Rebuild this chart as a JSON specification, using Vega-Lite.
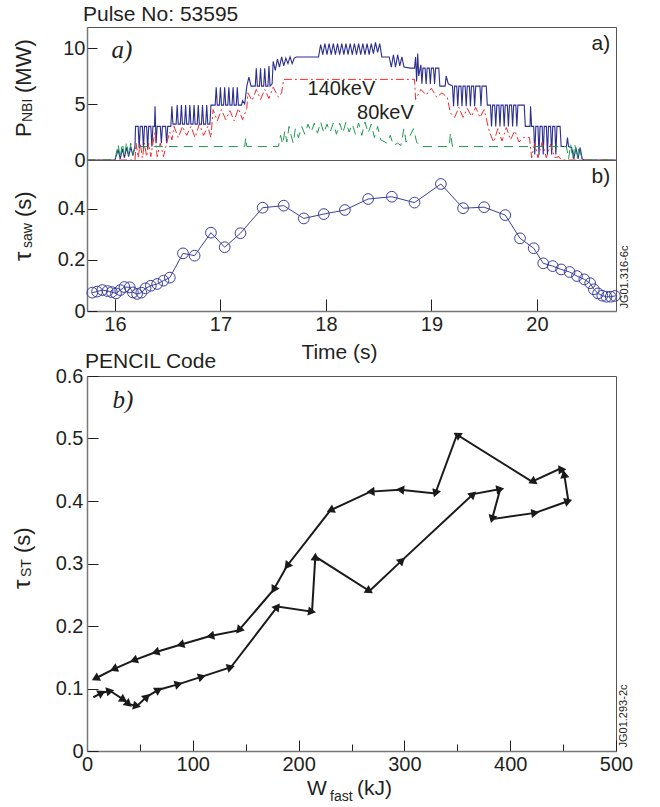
{
"$schema": "https://vega.github.io/schema/vega-lite/v6.json",
"padding": {"left": 10, "top": 3, "right": 4, "bottom": 2},
"config": {
 "font": "Liberation Sans",
 "view": {"stroke": "#555", "strokeWidth": 1},
 "axis": {"labelFont": "Liberation Sans", "labelFontSize": 20, "labelColor": "#231f20", "tickColor": "#231f20", "tickWidth": 1, "domainColor": "#777", "domainWidth": 1.5, "grid": false, "titleFont": "Liberation Sans", "titleFontSize": 20, "titleFontWeight": "normal", "titleColor": "#231f20", "labelFlush": false, "labelOverlap": false},
 "text": {"font": "Liberation Sans", "color": "#231f20"}
},
"datasets": {
 "nbi_total": [
  {"t":15.735,"P":0},{"t":16.0,"P":0},{"t":16.03,"P":0.9},{"t":16.05,"P":0.1},{"t":16.07,"P":1.0},{"t":16.09,"P":0.2},{"t":16.11,"P":1.1},{"t":16.13,"P":0.3},{"t":16.15,"P":1.2},{"t":16.17,"P":0.4},{"t":16.19,"P":1.2},{"t":16.195,"P":3.0},{"t":16.22,"P":3.0},{"t":16.23,"P":1.0},{"t":16.24,"P":3.0},{"t":16.26,"P":3.0},{"t":16.27,"P":1.0},{"t":16.28,"P":3.0},{"t":16.30,"P":3.0},{"t":16.31,"P":1.0},{"t":16.32,"P":3.0},{"t":16.34,"P":3.0},{"t":16.35,"P":1.2},{"t":16.36,"P":3.0},{"t":16.375,"P":3.0},{"t":16.38,"P":4.8},{"t":16.39,"P":1.5},{"t":16.40,"P":3.0},{"t":16.43,"P":3.0},{"t":16.44,"P":1.5},{"t":16.45,"P":3.0},{"t":16.48,"P":3.0},{"t":16.49,"P":1.5},{"t":16.50,"P":3.0},{"t":16.53,"P":3.0},{"t":16.54,"P":4.8},{"t":16.55,"P":3.2},{"t":16.58,"P":3.2},{"t":16.59,"P":4.9},{"t":16.60,"P":3.2},{"t":16.62,"P":3.2},{"t":16.63,"P":4.9},{"t":16.64,"P":3.2},{"t":16.66,"P":3.2},{"t":16.67,"P":4.9},{"t":16.68,"P":3.2},{"t":16.70,"P":3.2},{"t":16.71,"P":4.9},{"t":16.72,"P":3.2},{"t":16.74,"P":3.2},{"t":16.75,"P":4.9},{"t":16.76,"P":3.2},{"t":16.78,"P":3.2},{"t":16.79,"P":4.9},{"t":16.80,"P":3.2},{"t":16.82,"P":3.2},{"t":16.83,"P":4.9},{"t":16.84,"P":3.2},{"t":16.86,"P":3.2},{"t":16.87,"P":4.9},{"t":16.88,"P":3.2},{"t":16.90,"P":3.2},{"t":16.91,"P":4.9},{"t":16.93,"P":4.9},{"t":16.95,"P":4.9},{"t":16.96,"P":6.5},{"t":16.97,"P":4.9},{"t":16.99,"P":4.9},{"t":17.00,"P":6.5},{"t":17.01,"P":4.9},{"t":17.03,"P":4.9},{"t":17.04,"P":6.5},{"t":17.05,"P":4.9},{"t":17.07,"P":4.9},{"t":17.08,"P":6.5},{"t":17.09,"P":4.9},{"t":17.11,"P":4.9},{"t":17.12,"P":6.5},{"t":17.13,"P":4.9},{"t":17.15,"P":4.9},{"t":17.16,"P":6.5},{"t":17.17,"P":4.9},{"t":17.20,"P":4.9},{"t":17.21,"P":5.3},{"t":17.23,"P":5.0},{"t":17.25,"P":6.6},{"t":17.27,"P":7.4},{"t":17.29,"P":6.6},{"t":17.33,"P":6.6},{"t":17.34,"P":8.2},{"t":17.35,"P":6.6},{"t":17.37,"P":6.6},{"t":17.38,"P":8.2},{"t":17.39,"P":6.6},{"t":17.41,"P":6.6},{"t":17.42,"P":8.2},{"t":17.43,"P":6.6},{"t":17.45,"P":6.6},{"t":17.46,"P":8.4},{"t":17.47,"P":6.6},{"t":17.49,"P":6.8},{"t":17.50,"P":8.8},{"t":17.52,"P":8.0},{"t":17.54,"P":9.0},{"t":17.56,"P":8.3},{"t":17.58,"P":9.2},{"t":17.60,"P":8.4},{"t":17.62,"P":9.1},{"t":17.64,"P":8.6},{"t":17.66,"P":9.2},{"t":17.68,"P":8.6},{"t":17.70,"P":9.1},{"t":17.72,"P":9.2},{"t":17.93,"P":9.2},{"t":17.95,"P":10.3},{"t":17.97,"P":9.4},{"t":17.99,"P":10.4},{"t":18.01,"P":9.4},{"t":18.03,"P":10.4},{"t":18.05,"P":9.4},{"t":18.07,"P":10.4},{"t":18.09,"P":9.4},{"t":18.11,"P":10.4},{"t":18.13,"P":9.4},{"t":18.15,"P":10.4},{"t":18.17,"P":9.4},{"t":18.19,"P":10.4},{"t":18.21,"P":9.4},{"t":18.23,"P":10.4},{"t":18.25,"P":9.4},{"t":18.27,"P":10.4},{"t":18.29,"P":9.4},{"t":18.31,"P":10.4},{"t":18.33,"P":9.4},{"t":18.35,"P":10.4},{"t":18.37,"P":9.4},{"t":18.39,"P":10.4},{"t":18.41,"P":9.4},{"t":18.43,"P":10.4},{"t":18.45,"P":9.5},{"t":18.47,"P":10.5},{"t":18.49,"P":9.6},{"t":18.51,"P":10.4},{"t":18.53,"P":9.2},{"t":18.60,"P":9.2},{"t":18.62,"P":8.3},{"t":18.64,"P":9.4},{"t":18.66,"P":8.3},{"t":18.68,"P":9.4},{"t":18.70,"P":8.4},{"t":18.72,"P":9.2},{"t":18.74,"P":8.3},{"t":18.80,"P":8.2},{"t":18.84,"P":8.2},{"t":18.85,"P":9.2},{"t":18.86,"P":7.0},{"t":18.87,"P":9.5},{"t":18.88,"P":7.5},{"t":18.90,"P":8.5},{"t":18.91,"P":6.8},{"t":18.92,"P":8.2},{"t":18.94,"P":8.2},{"t":18.95,"P":6.8},{"t":18.96,"P":8.2},{"t":18.98,"P":8.2},{"t":18.99,"P":6.8},{"t":19.00,"P":8.2},{"t":19.02,"P":8.2},{"t":19.03,"P":6.8},{"t":19.04,"P":8.2},{"t":19.07,"P":8.2},{"t":19.08,"P":6.6},{"t":19.13,"P":6.6},{"t":19.14,"P":7.5},{"t":19.16,"P":6.8},{"t":19.20,"P":6.6},{"t":19.21,"P":4.8},{"t":19.22,"P":6.6},{"t":19.24,"P":6.6},{"t":19.25,"P":4.8},{"t":19.26,"P":6.6},{"t":19.28,"P":6.6},{"t":19.29,"P":4.8},{"t":19.30,"P":6.6},{"t":19.32,"P":6.6},{"t":19.33,"P":4.8},{"t":19.34,"P":6.6},{"t":19.36,"P":6.6},{"t":19.37,"P":4.8},{"t":19.38,"P":6.6},{"t":19.40,"P":6.6},{"t":19.41,"P":4.8},{"t":19.42,"P":6.6},{"t":19.46,"P":6.6},{"t":19.47,"P":4.8},{"t":19.48,"P":6.6},{"t":19.52,"P":6.6},{"t":19.53,"P":4.9},{"t":19.56,"P":4.9},{"t":19.57,"P":3.0},{"t":19.58,"P":4.9},{"t":19.60,"P":4.9},{"t":19.61,"P":3.0},{"t":19.62,"P":4.9},{"t":19.64,"P":4.9},{"t":19.65,"P":3.0},{"t":19.66,"P":4.9},{"t":19.68,"P":4.9},{"t":19.69,"P":3.0},{"t":19.70,"P":4.9},{"t":19.72,"P":4.9},{"t":19.73,"P":3.0},{"t":19.74,"P":4.9},{"t":19.76,"P":4.9},{"t":19.77,"P":3.0},{"t":19.78,"P":4.9},{"t":19.80,"P":4.9},{"t":19.81,"P":3.0},{"t":19.82,"P":4.9},{"t":19.88,"P":4.9},{"t":19.89,"P":3.0},{"t":19.935,"P":3.0},{"t":19.94,"P":4.8},{"t":19.95,"P":3.0},{"t":19.97,"P":3.0},{"t":19.98,"P":0.5},{"t":19.99,"P":3.0},{"t":20.01,"P":3.0},{"t":20.02,"P":0.5},{"t":20.03,"P":3.0},{"t":20.05,"P":3.0},{"t":20.06,"P":0.5},{"t":20.07,"P":3.0},{"t":20.09,"P":3.0},{"t":20.10,"P":0.5},{"t":20.11,"P":3.0},{"t":20.13,"P":3.0},{"t":20.14,"P":0.5},{"t":20.15,"P":3.0},{"t":20.17,"P":3.0},{"t":20.18,"P":0.5},{"t":20.19,"P":3.0},{"t":20.22,"P":3.0},{"t":20.23,"P":1.2},{"t":20.28,"P":1.2},{"t":20.29,"P":2.0},{"t":20.30,"P":1.2},{"t":20.33,"P":1.1},{"t":20.35,"P":0.1},{"t":20.37,"P":1.1},{"t":20.39,"P":0.1},{"t":20.41,"P":1.1},{"t":20.43,"P":0.1},{"t":20.45,"P":0},{"t":20.75,"P":0}
 ],
 "nbi_140": [
  {"t":15.735,"P":0},{"t":16.19,"P":0},{"t":16.20,"P":1.5},{"t":16.22,"P":0.2},{"t":16.24,"P":1.5},{"t":16.26,"P":0.2},{"t":16.28,"P":1.5},{"t":16.30,"P":0.3},{"t":16.32,"P":1.5},{"t":16.34,"P":0.3},{"t":16.36,"P":1.5},{"t":16.38,"P":2.5},{"t":16.40,"P":0.3},{"t":16.43,"P":1.5},{"t":16.46,"P":0.3},{"t":16.49,"P":1.5},{"t":16.52,"P":2.5},{"t":16.54,"P":1.8},{"t":16.56,"P":3.0},{"t":16.60,"P":2.0},{"t":16.64,"P":3.0},{"t":16.68,"P":2.2},{"t":16.72,"P":3.0},{"t":16.76,"P":2.0},{"t":16.80,"P":3.2},{"t":16.84,"P":2.2},{"t":16.88,"P":3.0},{"t":16.91,"P":2.0},{"t":16.93,"P":4.5},{"t":16.97,"P":3.5},{"t":17.01,"P":4.5},{"t":17.05,"P":3.6},{"t":17.09,"P":4.4},{"t":17.13,"P":3.5},{"t":17.17,"P":4.6},{"t":17.21,"P":3.6},{"t":17.25,"P":4.6},{"t":17.26,"P":6.0},{"t":17.30,"P":5.3},{"t":17.34,"P":6.3},{"t":17.38,"P":5.4},{"t":17.42,"P":6.3},{"t":17.46,"P":5.5},{"t":17.50,"P":6.5},{"t":17.55,"P":5.6},{"t":17.58,"P":6.0},{"t":17.60,"P":7.2},{"t":18.84,"P":7.2},{"t":18.85,"P":5.4},{"t":18.90,"P":6.3},{"t":18.95,"P":5.8},{"t":19.00,"P":6.4},{"t":19.05,"P":5.6},{"t":19.10,"P":6.0},{"t":19.15,"P":5.6},{"t":19.18,"P":4.2},{"t":19.22,"P":3.8},{"t":19.26,"P":4.7},{"t":19.30,"P":3.8},{"t":19.34,"P":4.6},{"t":19.38,"P":3.9},{"t":19.42,"P":4.7},{"t":19.46,"P":3.8},{"t":19.50,"P":4.5},{"t":19.55,"P":2.5},{"t":19.59,"P":1.6},{"t":19.63,"P":2.8},{"t":19.67,"P":1.7},{"t":19.71,"P":2.9},{"t":19.75,"P":1.8},{"t":19.79,"P":2.6},{"t":19.83,"P":1.6},{"t":19.87,"P":2.0},{"t":19.93,"P":2.0},{"t":19.95,"P":0.2},{"t":19.98,"P":1.5},{"t":20.01,"P":0.2},{"t":20.05,"P":1.6},{"t":20.09,"P":0.2},{"t":20.13,"P":1.4},{"t":20.17,"P":0.2},{"t":20.21,"P":0.3},{"t":20.23,"P":0},{"t":20.75,"P":0}
 ],
 "nbi_80": [
  {"t":15.735,"P":0},{"t":16.0,"P":0},{"t":16.03,"P":1.4},{"t":16.05,"P":0.2},{"t":16.07,"P":1.5},{"t":16.09,"P":0.3},{"t":16.11,"P":1.6},{"t":16.13,"P":0.4},{"t":16.15,"P":1.5},{"t":16.17,"P":0.5},{"t":16.19,"P":1.2},{"t":17.23,"P":1.2},{"t":17.24,"P":2.0},{"t":17.25,"P":1.2},{"t":17.55,"P":1.2},{"t":17.57,"P":2.2},{"t":17.59,"P":1.4},{"t":17.61,"P":2.6},{"t":17.63,"P":1.6},{"t":17.65,"P":3.0},{"t":17.67,"P":2.2},{"t":17.69,"P":1.5},{"t":17.71,"P":2.8},{"t":17.74,"P":2.0},{"t":17.77,"P":3.0},{"t":17.80,"P":2.3},{"t":17.83,"P":3.2},{"t":17.86,"P":2.5},{"t":17.89,"P":3.3},{"t":17.92,"P":2.4},{"t":17.95,"P":3.4},{"t":17.98,"P":2.4},{"t":18.01,"P":3.2},{"t":18.04,"P":2.5},{"t":18.07,"P":3.3},{"t":18.10,"P":2.3},{"t":18.13,"P":3.3},{"t":18.16,"P":2.4},{"t":18.19,"P":3.4},{"t":18.22,"P":2.5},{"t":18.25,"P":3.2},{"t":18.28,"P":2.3},{"t":18.31,"P":3.3},{"t":18.34,"P":2.2},{"t":18.37,"P":3.4},{"t":18.40,"P":2.4},{"t":18.43,"P":3.2},{"t":18.46,"P":2.0},{"t":18.49,"P":3.0},{"t":18.52,"P":1.8},{"t":18.58,"P":1.5},{"t":18.61,"P":2.2},{"t":18.64,"P":1.3},{"t":18.68,"P":1.5},{"t":18.71,"P":1.3},{"t":18.74,"P":2.8},{"t":18.76,"P":1.6},{"t":18.80,"P":2.2},{"t":18.83,"P":2.8},{"t":18.86,"P":1.6},{"t":18.90,"P":1.2},{"t":19.17,"P":1.2},{"t":19.18,"P":2.4},{"t":19.20,"P":1.2},{"t":20.28,"P":1.2},{"t":20.30,"P":0.1},{"t":20.32,"P":1.4},{"t":20.34,"P":0.1},{"t":20.36,"P":1.4},{"t":20.38,"P":0.1},{"t":20.40,"P":1.2},{"t":20.43,"P":0},{"t":20.75,"P":0}
 ],
 "saw": [
  {"t":15.785,"tau":0.072},{"t":15.83,"tau":0.076},{"t":15.88,"tau":0.082},{"t":15.93,"tau":0.078},{"t":15.97,"tau":0.074},{"t":16.01,"tau":0.069},{"t":16.05,"tau":0.082},{"t":16.09,"tau":0.094},{"t":16.14,"tau":0.093},{"t":16.17,"tau":0.073},{"t":16.21,"tau":0.067},{"t":16.25,"tau":0.072},{"t":16.29,"tau":0.089},{"t":16.34,"tau":0.099},{"t":16.40,"tau":0.106},{"t":16.46,"tau":0.119},{"t":16.52,"tau":0.131},{"t":16.645,"tau":0.226},{"t":16.755,"tau":0.217},{"t":16.91,"tau":0.307},{"t":17.04,"tau":0.250},{"t":17.19,"tau":0.305},{"t":17.40,"tau":0.405},{"t":17.60,"tau":0.413},{"t":17.79,"tau":0.363},{"t":17.98,"tau":0.380},{"t":18.18,"tau":0.396},{"t":18.40,"tau":0.439},{"t":18.625,"tau":0.448},{"t":18.84,"tau":0.425},{"t":19.09,"tau":0.498},{"t":19.30,"tau":0.403},{"t":19.50,"tau":0.407},{"t":19.70,"tau":0.376},{"t":19.84,"tau":0.285},{"t":19.97,"tau":0.246},{"t":20.06,"tau":0.187},{"t":20.15,"tau":0.176},{"t":20.23,"tau":0.163},{"t":20.31,"tau":0.153},{"t":20.38,"tau":0.137},{"t":20.45,"tau":0.124},{"t":20.505,"tau":0.109},{"t":20.54,"tau":0.085},{"t":20.58,"tau":0.069},{"t":20.62,"tau":0.060},{"t":20.66,"tau":0.056},{"t":20.70,"tau":0.056},{"t":20.74,"tau":0.059}
 ],
 "st": [
  {"i":1,"W":6,"tau":0.086},{"i":2,"W":14,"tau":0.093},{"i":3,"W":22,"tau":0.096},{"i":4,"W":34.7,"tau":0.082},{"i":5,"W":39.4,"tau":0.075},{"i":6,"W":47.3,"tau":0.072},{"i":7,"W":56.7,"tau":0.087},{"i":8,"W":67.8,"tau":0.098},{"i":9,"W":86.7,"tau":0.107},{"i":10,"W":108.7,"tau":0.119},{"i":11,"W":136,"tau":0.134},{"i":12,"W":180,"tau":0.231},{"i":13,"W":212.7,"tau":0.223},{"i":14,"W":215.8,"tau":0.311},{"i":15,"W":267,"tau":0.256},{"i":16,"W":297.7,"tau":0.305},{"i":17,"W":365,"tau":0.411},{"i":18,"W":390.6,"tau":0.419},{"i":19,"W":382.8,"tau":0.371},{"i":20,"W":423.7,"tau":0.381},{"i":21,"W":455,"tau":0.400},{"i":22,"W":451,"tau":0.443},{"i":23,"W":447.4,"tau":0.452},{"i":24,"W":420.6,"tau":0.431},{"i":25,"W":349.7,"tau":0.506},{"i":26,"W":329.2,"tau":0.412},{"i":27,"W":296,"tau":0.418},{"i":28,"W":268,"tau":0.415},{"i":29,"W":230,"tau":0.385},{"i":30,"W":189,"tau":0.296},{"i":31,"W":176.4,"tau":0.258},{"i":32,"W":143.4,"tau":0.193},{"i":33,"W":116.5,"tau":0.184},{"i":34,"W":88.2,"tau":0.170},{"i":35,"W":64.6,"tau":0.158},{"i":36,"W":44.1,"tau":0.145},{"i":37,"W":25.2,"tau":0.131},{"i":38,"W":7.9,"tau":0.116}
 ],
 "one": [{}]
},
"spacing": -13,
"vconcat": [
 {
  "spacing": 0,
  "bounds": "flush",
  "vconcat": [
   {
    "width": 529, "height": 133,
    "title": {"text": "Pulse No: 53595", "anchor": "start", "frame": "group", "fontSize": 21, "fontWeight": "normal", "font": "Liberation Sans", "color": "#231f20", "offset": 2, "dx": -4},
    "layer": [
     {"data": {"name": "nbi_total"}, "mark": {"type": "line", "color": "#2b2e8f", "strokeWidth": 1.1, "clip": true},
      "encoding": {
       "x": {"field": "t", "type": "quantitative", "scale": {"domain": [15.735, 20.75], "nice": false, "zero": false}, "axis": null},
       "y": {"field": "P", "type": "quantitative", "scale": {"domain": [0, 11.875], "nice": false, "zero": false}, "axis": {"values": [0, 5, 10], "title": null, "tickSize": -10, "labelPadding": 12}}
      }},
     {"data": {"name": "nbi_140"}, "mark": {"type": "line", "color": "#ee2b2b", "strokeWidth": 1, "strokeDash": [8, 3, 2, 3], "clip": true},
      "encoding": {"x": {"field": "t", "type": "quantitative", "title": null}, "y": {"field": "P", "type": "quantitative", "title": null}}},
     {"data": {"name": "nbi_80"}, "mark": {"type": "line", "color": "#1f9a4f", "strokeWidth": 1, "strokeDash": [9, 6], "clip": true},
      "encoding": {"x": {"field": "t", "type": "quantitative", "title": null}, "y": {"field": "P", "type": "quantitative", "title": null}}},
     {"data": {"name": "one"}, "mark": {"type": "text", "text": "a)", "font": "Liberation Serif", "fontStyle": "italic", "fontSize": 25, "align": "center", "baseline": "middle"},
      "encoding": {"x": {"datum": 16.066, "type": "quantitative", "title": null}, "y": {"datum": 9.82, "type": "quantitative", "title": null}}},
     {"data": {"name": "one"}, "mark": {"type": "text", "text": "a)", "fontSize": 21, "align": "center", "baseline": "middle"},
      "encoding": {"x": {"datum": 20.607, "type": "quantitative", "title": null}, "y": {"datum": 10.36, "type": "quantitative", "title": null}}},
     {"data": {"name": "one"}, "mark": {"type": "text", "text": "140keV", "fontSize": 20, "align": "center", "baseline": "middle"},
      "encoding": {"x": {"datum": 18.147, "type": "quantitative", "title": null}, "y": {"datum": 6.34, "type": "quantitative", "title": null}}},
     {"data": {"name": "one"}, "mark": {"type": "text", "text": "80keV", "fontSize": 20, "align": "center", "baseline": "middle"},
      "encoding": {"x": {"datum": 18.564, "type": "quantitative", "title": null}, "y": {"datum": 4.2, "type": "quantitative", "title": null}}},
     {"data": {"name": "one"}, "mark": {"type": "text", "text": "P", "fontSize": 22, "angle": 270, "align": "left", "baseline": "alphabetic"},
      "encoding": {"x": {"datum": 15.204, "type": "quantitative", "title": null}, "y": {"datum": 2.054, "type": "quantitative", "title": null}}},
     {"data": {"name": "one"}, "mark": {"type": "text", "text": "NBI", "fontSize": 14, "angle": 270, "align": "left", "baseline": "alphabetic"},
      "encoding": {"x": {"datum": 15.2135, "type": "quantitative", "title": null}, "y": {"datum": 3.39, "type": "quantitative", "title": null}}},
     {"data": {"name": "one"}, "mark": {"type": "text", "text": "(MW)", "fontSize": 22, "angle": 270, "align": "left", "baseline": "alphabetic"},
      "encoding": {"x": {"datum": 15.204, "type": "quantitative", "title": null}, "y": {"datum": 5.98, "type": "quantitative", "title": null}}}
    ]
   },
   {
    "width": 529, "height": 151,
    "layer": [
     {"data": {"name": "saw"}, "mark": {"type": "line", "color": "#3b3f9e", "strokeWidth": 1, "clip": true},
      "encoding": {
       "x": {"field": "t", "type": "quantitative", "scale": {"domain": [15.735, 20.75], "nice": false, "zero": false}, "axis": {"values": [16, 17, 18, 19, 20], "format": "d", "tickSize": -12, "labelPadding": 15, "title": "Time (s)", "titlePadding": 7, "titleFontSize": 21, "titleX": 252}},
       "y": {"field": "tau", "type": "quantitative", "scale": {"domain": [0, 0.592], "nice": false, "zero": false}, "axis": {"values": [0, 0.2, 0.4], "format": "~g", "tickSize": -10, "labelPadding": 12, "title": null}}
      }},
     {"data": {"name": "saw"}, "mark": {"type": "point", "shape": "circle", "filled": false, "size": 115, "stroke": "#3b3f9e", "strokeWidth": 1, "opacity": 1},
      "encoding": {"x": {"field": "t", "type": "quantitative", "title": "Time (s)"}, "y": {"field": "tau", "type": "quantitative", "title": null}}},
     {"data": {"name": "one"}, "mark": {"type": "text", "text": "b)", "fontSize": 21, "align": "center", "baseline": "middle"},
      "encoding": {"x": {"datum": 20.607, "type": "quantitative", "title": "Time (s)"}, "y": {"datum": 0.525, "type": "quantitative", "title": null}}},
     {"data": {"name": "one"}, "mark": {"type": "text", "text": "JG01.316-6c", "fontSize": 11, "angle": 270, "align": "center", "baseline": "middle"},
      "encoding": {"x": {"datum": 20.834, "type": "quantitative", "title": "Time (s)"}, "y": {"datum": 0.133, "type": "quantitative", "title": null}}},
     {"data": {"name": "one"}, "mark": {"type": "text", "text": "τ", "fontSize": 24, "angle": 270, "align": "left", "baseline": "alphabetic"},
      "encoding": {"x": {"datum": 15.204, "type": "quantitative", "title": "Time (s)"}, "y": {"datum": 0.196, "type": "quantitative", "title": null}}},
     {"data": {"name": "one"}, "mark": {"type": "text", "text": "saw", "fontSize": 14, "angle": 270, "align": "left", "baseline": "alphabetic"},
      "encoding": {"x": {"datum": 15.2135, "type": "quantitative", "title": "Time (s)"}, "y": {"datum": 0.247, "type": "quantitative", "title": null}}},
     {"data": {"name": "one"}, "mark": {"type": "text", "text": "(s)", "fontSize": 22, "angle": 270, "align": "left", "baseline": "alphabetic"},
      "encoding": {"x": {"datum": 15.204, "type": "quantitative", "title": "Time (s)"}, "y": {"datum": 0.3686, "type": "quantitative", "title": null}}}
    ]
   }
  ]
 },
 {
  "width": 529, "height": 375,
  "title": {"text": "PENCIL Code", "anchor": "start", "frame": "group", "fontSize": 21, "fontWeight": "normal", "font": "Liberation Sans", "color": "#231f20", "offset": -6, "dx": -2},
  "layer": [
   {"data": {"name": "st"}, "mark": {"type": "line", "color": "#1a1a1a", "strokeWidth": 2, "clip": true},
    "encoding": {
     "x": {"field": "W", "type": "quantitative", "scale": {"domain": [0, 500], "nice": false, "zero": false}, "axis": {"values": [0, 50, 100, 150, 200, 250, 300, 350, 400, 450, 500], "labelExpr": "datum.value % 100 === 0 ? datum.label : ''", "tickSize": {"condition": {"test": "datum.value % 100 === 0", "value": -11}, "value": -7}, "labelPadding": 14, "title": null}},
     "y": {"field": "tau", "type": "quantitative", "scale": {"domain": [0, 0.6], "nice": false, "zero": false}, "axis": {"values": [0, 0.1, 0.2, 0.3, 0.4, 0.5, 0.6], "format": "~g", "tickSize": -11, "labelPadding": 15, "title": null}},
     "order": {"field": "i", "type": "quantitative"}
    }},
   {"data": {"name": "st"},
    "transform": [
     {"window": [{"op": "lag", "field": "W", "as": "W0"}, {"op": "lag", "field": "tau", "as": "T0"}], "sort": [{"field": "i", "order": "ascending"}]},
     {"filter": "datum.W0 != null"},
     {"calculate": "atan2(-(datum.tau - datum.T0) * 625, (datum.W - datum.W0) * 1.058) * 180 / PI", "as": "ang"}
    ],
    "mark": {"type": "point", "shape": "triangle-right", "filled": true, "color": "#1a1a1a", "size": 85, "opacity": 1},
    "encoding": {"x": {"field": "W", "type": "quantitative", "title": null}, "y": {"field": "tau", "type": "quantitative", "title": null}, "angle": {"field": "ang", "type": "quantitative", "scale": null}}},
   {"data": {"name": "one"}, "mark": {"type": "text", "text": "b)", "font": "Liberation Serif", "fontStyle": "italic", "fontSize": 25, "align": "center", "baseline": "middle"},
    "encoding": {"x": {"datum": 34, "type": "quantitative", "title": null}, "y": {"datum": 0.562, "type": "quantitative", "title": null}}},
   {"data": {"name": "one"}, "mark": {"type": "text", "text": "JG01.293-2c", "fontSize": 11, "angle": 270, "align": "center", "baseline": "middle"},
    "encoding": {"x": {"datum": 507.6, "type": "quantitative", "title": null}, "y": {"datum": 0.056, "type": "quantitative", "title": null}}},
   {"data": {"name": "one"}, "mark": {"type": "text", "text": "τ", "fontSize": 24, "angle": 270, "align": "left", "baseline": "alphabetic"},
    "encoding": {"x": {"datum": -53.9, "type": "quantitative", "title": null}, "y": {"datum": 0.2592, "type": "quantitative", "title": null}}},
   {"data": {"name": "one"}, "mark": {"type": "text", "text": "ST", "fontSize": 14, "angle": 270, "align": "left", "baseline": "alphabetic"},
    "encoding": {"x": {"datum": -52.9, "type": "quantitative", "title": null}, "y": {"datum": 0.2784, "type": "quantitative", "title": null}}},
   {"data": {"name": "one"}, "mark": {"type": "text", "text": "(s)", "fontSize": 22, "angle": 270, "align": "left", "baseline": "alphabetic"},
    "encoding": {"x": {"datum": -53.9, "type": "quantitative", "title": null}, "y": {"datum": 0.3168, "type": "quantitative", "title": null}}},
   {"data": {"name": "one"}, "mark": {"type": "text", "text": "W", "fontSize": 21, "align": "left", "baseline": "alphabetic"},
    "encoding": {"x": {"datum": 208, "type": "quantitative", "title": null}, "y": {"datum": -0.0704, "type": "quantitative", "title": null}}},
   {"data": {"name": "one"}, "mark": {"type": "text", "text": "fast", "fontSize": 14, "align": "left", "baseline": "alphabetic"},
    "encoding": {"x": {"datum": 229.7, "type": "quantitative", "title": null}, "y": {"datum": -0.08, "type": "quantitative", "title": null}}},
   {"data": {"name": "one"}, "mark": {"type": "text", "text": "(kJ)", "fontSize": 21, "align": "left", "baseline": "alphabetic"},
    "encoding": {"x": {"datum": 255.2, "type": "quantitative", "title": null}, "y": {"datum": -0.0704, "type": "quantitative", "title": null}}}
  ]
 }
]
}
